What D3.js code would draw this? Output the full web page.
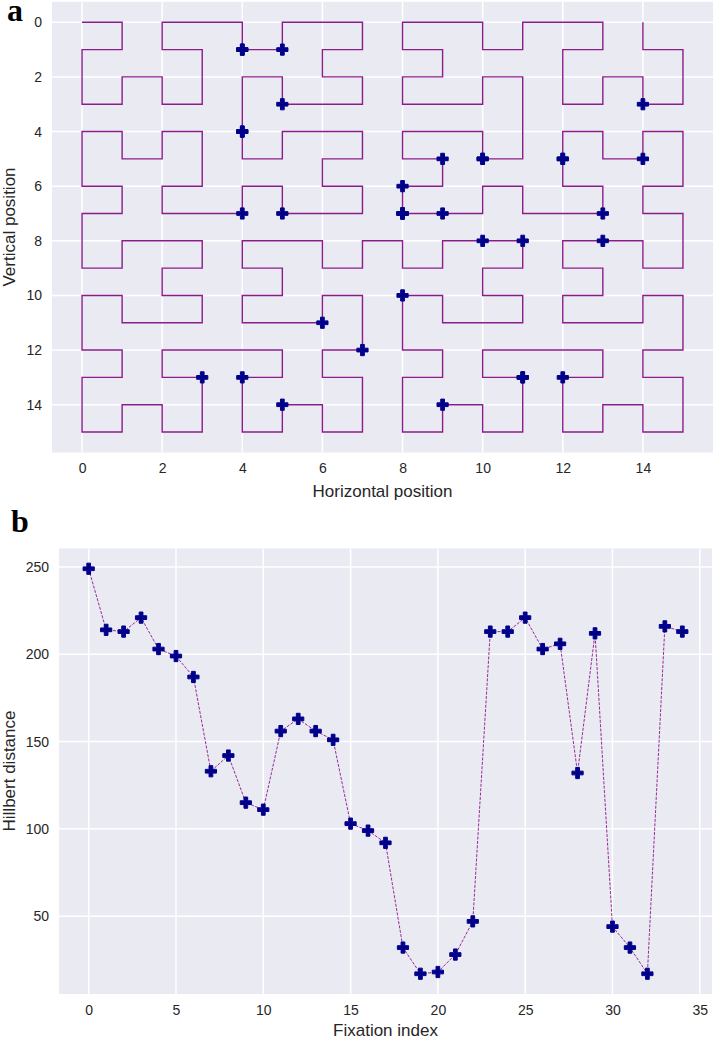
<!DOCTYPE html>
<html>
<head>
<meta charset="utf-8">
<script src="https://cdn.jsdelivr.net/npm/d3@7"></script>
<style>
  body { margin: 0; background: #fff; }
  svg { display: block; }
  .tick text { font-family: "Liberation Sans", Arial, sans-serif; font-size: 14px; fill: #262626; }
  .lab { font-family: "Liberation Sans", Arial, sans-serif; font-size: 17px; fill: #262626; }
  .panel { font-family: "Liberation Serif", "Times New Roman", serif; font-size: 32px; font-weight: bold; fill: #000; }
</style>
</head>
<body>
<svg id="chart" width="714" height="1039"></svg>
<script>
(function() {

// Panel a: order of the Hilbert curve drawn on the 16 x 16 grid
var curveOrder = 4;
var gridTicks = [0, 2, 4, 6, 8, 10, 12, 14];

// Fixations, in the order they were made (grid cells)
var fixX = [14, 8, 8, 10, 12, 14, 13, 11, 8, 6, 7, 11, 12, 11, 9, 5, 4, 3,
            4, 4, 5, 5, 4, 8, 8, 10, 12, 13, 10, 9, 5, 4, 4, 9, 8];
var fixY = [3, 6, 7, 5, 5, 5, 8, 8, 10, 11, 12, 13, 13, 13, 14, 14, 13, 13,
            4, 1, 1, 3, 7, 7, 7, 5, 5, 7, 8, 7, 7, 4, 1, 5, 7];

// Panel b: Hilbert distance of each fixation
var hilbertDist = [249, 214, 213, 221, 203, 199, 187, 133, 142, 115, 111, 156, 163, 156, 151,
                   103, 99, 92, 32, 17, 18, 28, 47, 213, 213, 221, 203, 206, 132, 212,
                   44, 32, 17, 216, 213];
var distTicks = [50, 100, 150, 200, 250];
var indexTicks = [0, 5, 10, 15, 20, 25, 30, 35];

var svg = d3.select('#chart'),
    bg = '#eaeaf2',
    lineColor = '#8b1d8b',
    markColor = '#00008b';

// standard d -> (x, y) walk along the Hilbert curve
function hilbertPoint(n, d) {
  var x = 0, y = 0, t = d, s, rx, ry, tmp;
  for (s = 1; s < n; s *= 2) {
    rx = 1 & (t / 2);
    ry = 1 & (t ^ rx);
    if (ry === 0) {
      if (rx === 1) { x = s - 1 - x; y = s - 1 - y; }
      tmp = x; x = y; y = tmp;
    }
    x += s * rx;
    y += s * ry;
    t = Math.floor(t / 4);
  }
  return [x, y];
}

// filled plus ("P" marker)
function plusPath(r) {
  var a = r / 3;
  return 'M' + [[-a, -r], [a, -r], [a, -a], [r, -a], [r, a], [a, a], [a, r],
                [-a, r], [-a, a], [-r, a], [-r, -a], [-a, -a]].map(function(p) {
    return p[0] + ',' + p[1];
  }).join('L') + 'Z';
}

function drawFrame(g, x, y, xt, yt) {
  var x0 = x.range()[0], x1 = x.range()[1],
      y0 = y.range()[0], y1 = y.range()[1];
  g.append('rect')
    .attr('x', Math.min(x0, x1)).attr('y', Math.min(y0, y1))
    .attr('width', Math.abs(x1 - x0)).attr('height', Math.abs(y1 - y0))
    .attr('fill', bg);
  g.selectAll('.gx').data(xt).enter().append('line')
    .attr('x1', x).attr('x2', x).attr('y1', y0).attr('y2', y1)
    .attr('stroke', '#fff').attr('stroke-width', 1.5);
  g.selectAll('.gy').data(yt).enter().append('line')
    .attr('y1', y).attr('y2', y).attr('x1', x0).attr('x2', x1)
    .attr('stroke', '#fff').attr('stroke-width', 1.5);

  var bottom = Math.max(y0, y1);
  g.append('g').attr('transform', 'translate(0,' + bottom + ')')
    .call(d3.axisBottom(x).tickValues(xt).tickSize(0).tickPadding(11))
    .call(function(a) { a.select('.domain').remove(); });
  g.append('g').attr('transform', 'translate(' + Math.min(x0, x1) + ',0)')
    .call(d3.axisLeft(y).tickValues(yt).tickSize(0).tickPadding(10))
    .call(function(a) { a.select('.domain').remove(); });
  g.selectAll('.tick text').attr('font-family', null).attr('font-size', null).attr('fill', null);
}

// ---- panel a ----
var xa = d3.scaleLinear().domain([-0.75, 15.75]).range([52, 713]),
    ya = d3.scaleLinear().domain([-0.75, 15.75]).range([1.8, 452.5]);
var ga = svg.append('g');
drawFrame(ga, xa, ya, gridTicks, gridTicks);

var n = Math.pow(2, curveOrder),
    curve = d3.range(n * n - 1).map(function(d) { return hilbertPoint(n, d); });

ga.append('path')
  .datum(curve)
  .attr('fill', 'none')
  .attr('stroke', lineColor)
  .attr('stroke-width', 1.4)
  .attr('d', d3.line().x(function(p) { return xa(p[0]); }).y(function(p) { return ya(p[1]); }));

ga.selectAll('.fix').data(fixX).enter().append('path')
  .attr('transform', function(d, i) { return 'translate(' + xa(d) + ',' + ya(fixY[i]) + ')'; })
  .attr('d', plusPath(5.6))
  .attr('fill', markColor)
  .attr('stroke', markColor)
  .attr('stroke-width', 1);

ga.append('text').attr('class', 'lab').attr('x', 382.5).attr('y', 496.5)
  .attr('text-anchor', 'middle').text('Horizontal position');
ga.append('text').attr('class', 'lab').attr('text-anchor', 'middle')
  .attr('transform', 'translate(15,227) rotate(-90)').text('Vertical position');
ga.append('text').attr('class', 'panel').attr('x', 7).attr('y', 21).text('a');

// ---- panel b ----
var xb = d3.scaleLinear().domain([-1.7, 35.7]).range([59, 712]),
    yb = d3.scaleLinear().domain([5.4, 260.6]).range([994, 548.5]);
var gb = svg.append('g');
drawFrame(gb, xb, yb, indexTicks, distTicks);

gb.append('path')
  .datum(hilbertDist)
  .attr('fill', 'none')
  .attr('stroke', '#9a2a9a')
  .attr('stroke-width', 1)
  .attr('stroke-dasharray', '3,1.4')
  .attr('d', d3.line().x(function(d, i) { return xb(i); }).y(function(d) { return yb(d); }));

gb.selectAll('.dist').data(hilbertDist).enter().append('path')
  .attr('transform', function(d, i) { return 'translate(' + xb(i) + ',' + yb(d) + ')'; })
  .attr('d', plusPath(5.6))
  .attr('fill', markColor)
  .attr('stroke', markColor)
  .attr('stroke-width', 1);

gb.append('text').attr('class', 'lab').attr('x', 385.5).attr('y', 1036)
  .attr('text-anchor', 'middle').text('Fixation index');
gb.append('text').attr('class', 'lab').attr('text-anchor', 'middle')
  .attr('transform', 'translate(15,771) rotate(-90)').text('Hillbert distance');
gb.append('text').attr('class', 'panel').attr('x', 11).attr('y', 532).text('b');

})();
</script>
</body>
</html>
